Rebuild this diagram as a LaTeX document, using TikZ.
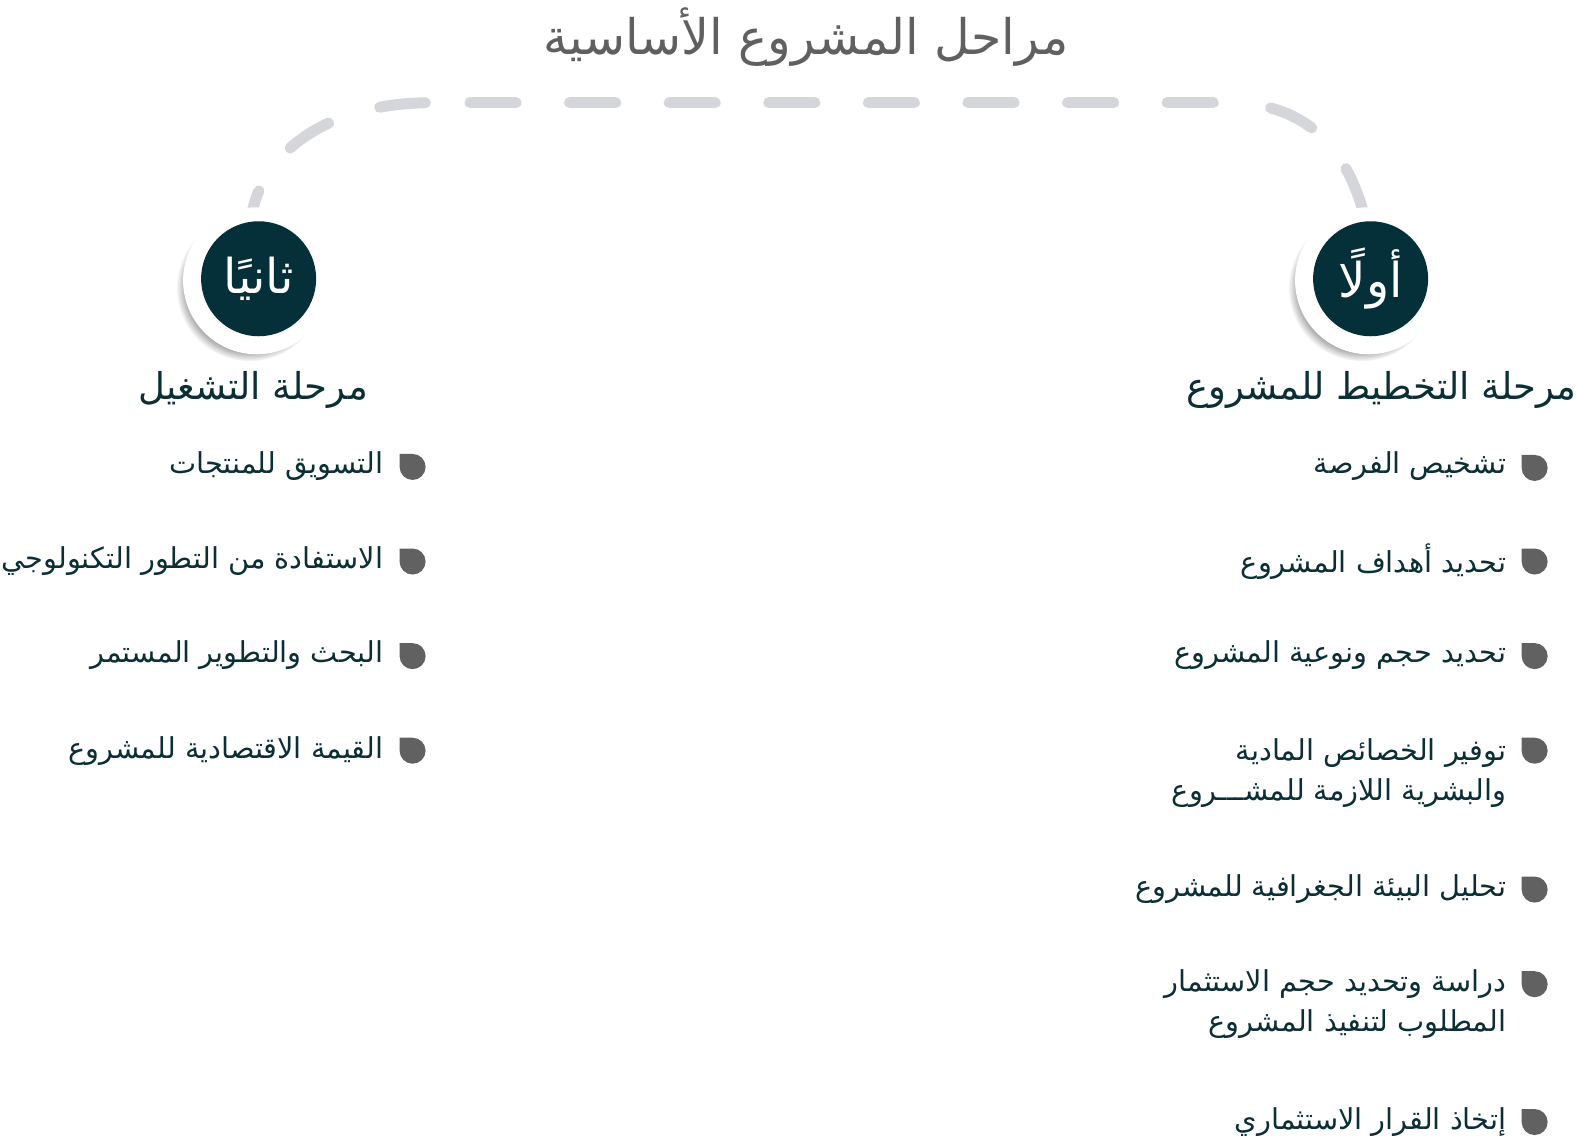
\documentclass[tikz,border=0pt]{standalone}
\usepackage{fontspec}
\usetikzlibrary{shadows}
\TeXXeTstate=1
\newfontfamily\arabicfont[Script=Arabic]{DejaVu Sans}
\definecolor{darkteal}{HTML}{05303A}
\definecolor{txtteal}{HTML}{0C2F36}
\definecolor{bulgray}{HTML}{616161}
\definecolor{titlegray}{HTML}{606060}
\definecolor{dashgray}{HTML}{D5D6D9}
\tikzset{
  titletext/.style={font=\arabicfont\fontsize{49}{54}\selectfont, text=titlegray, inner sep=0pt},
  headtext/.style={font=\arabicfont\fontsize{37}{42}\selectfont, text=txtteal, inner sep=0pt, anchor=east},
  itemtext/.style={font=\arabicfont\fontsize{28.8}{40}\selectfont, text=txtteal, inner sep=0pt, align=right},
  bul/.style={minimum size=26pt, inner sep=0pt,
    path picture={\fill[bulgray] ([shift={(-13pt,13pt)}]path picture bounding box.center) -- ++(13pt,0pt)
      arc[start angle=90,end angle=-180,radius=13pt] -- cycle;}},
  outercirc/.style={circle, fill=white, minimum size=147pt, inner sep=0pt,
    circular drop shadow={shadow xshift=-7pt, shadow yshift=-7pt, opacity=0.75, shadow scale=1.0}},
  innercirc/.style={circle, fill=darkteal, minimum size=115pt, inner sep=0pt, text=white,
    font=\arabicfont\fontsize{48}{50}\selectfont},
  dashline/.style={draw=dashgray, line width=11pt, line cap=round, dash pattern=on 46pt off 53.6pt}
}
\begin{document}
\begin{tikzpicture}[x=1.0063pt,y=1.0063pt]
\fill[white] (0,0) rectangle (1567.1,-1132.9);

% title
\node[titletext] (title) at (801,-37) {\beginR مراحل المشروع الأساسية\endR};

% dashed connector
\coordinate (ds) at (250,-215);
\coordinate (la) at (430,-102);
\coordinate (ra) at (1220,-102);
\coordinate (de) at (1356,-215);
\draw[dashline, dash phase=92.3pt] (la) .. controls (315,-102) and (258,-160) .. (ds);
\draw[dashline, dash phase=62.3pt] (la) -- (ra);
\draw[dashline, dash phase=56.3pt] (ra) .. controls (1292,-102) and (1336,-140) .. (de);

% circles
\node[outercirc] (c2o) at (255,-279) {};
\node[innercirc] (c2) at (257,-277) {\beginR ثانيًا\endR};
\node[outercirc] (c1o) at (1360,-279) {};
\node[innercirc] (c1) at (1362,-277) {\beginR أولًا\endR};

% headings
\node[headtext] (h1) at (1567,-388) {\beginR مرحلة التخطيط للمشروع\endR};
\node[headtext] (h2) at (366,-388) {\beginR مرحلة التشغيل\endR};

% right column
\node[bul] (rb1) at (1525,-465) {};
\node[itemtext, anchor=east] (r1) at (1497,-463) {\beginR تشخيص الفرصة\endR};
\node[bul] (rb2) at (1525,-558) {};
\node[itemtext, anchor=east] (r2) at (1497,-558) {\beginR تحديد أهداف المشروع\endR};
\node[bul] (rb3) at (1525,-652) {};
\node[itemtext, anchor=east] (r3) at (1497,-651) {\beginR تحديد حجم ونوعية المشروع\endR};
\node[bul] (rb4) at (1525,-746) {};
\node[itemtext, anchor=east] (r4) at (1497,-768) {\beginR توفير الخصائص المادية\endR\\\beginR والبشرية اللازمة للمشـــروع\endR};
\node[bul] (rb5) at (1525,-884) {};
\node[itemtext, anchor=east] (r5) at (1497,-883) {\beginR تحليل البيئة الجغرافية للمشروع\endR};
\node[bul] (rb6) at (1525,-978) {};
\node[itemtext, anchor=east] (r6) at (1497,-998) {\beginR دراسة وتحديد حجم الاستثمار\endR\\\beginR المطلوب لتنفيذ المشروع\endR};
\node[bul] (rb7) at (1525,-1115) {};
\node[itemtext, anchor=east] (r7) at (1497,-1115) {\beginR إتخاذ القرار الاستثماري\endR};

% left column
\node[bul] (lb1) at (410,-464) {};
\node[itemtext, anchor=east] (l1) at (381,-463) {\beginR التسويق للمنتجات\endR};
\node[bul] (lb2) at (410,-558) {};
\node[itemtext, anchor=east] (l2) at (381,-558) {\beginR الاستفادة من التطور التكنولوجي\endR};
\node[bul] (lb3) at (410,-652) {};
\node[itemtext, anchor=east] (l3) at (381,-651) {\beginR البحث والتطوير المستمر\endR};
\node[bul] (lb4) at (410,-746) {};
\node[itemtext, anchor=east] (l4) at (381,-746) {\beginR القيمة الاقتصادية للمشروع\endR};

\pgfresetboundingbox
\path[use as bounding box] (0,0) rectangle (1567.1,-1132.9);
\end{tikzpicture}
\end{document}
